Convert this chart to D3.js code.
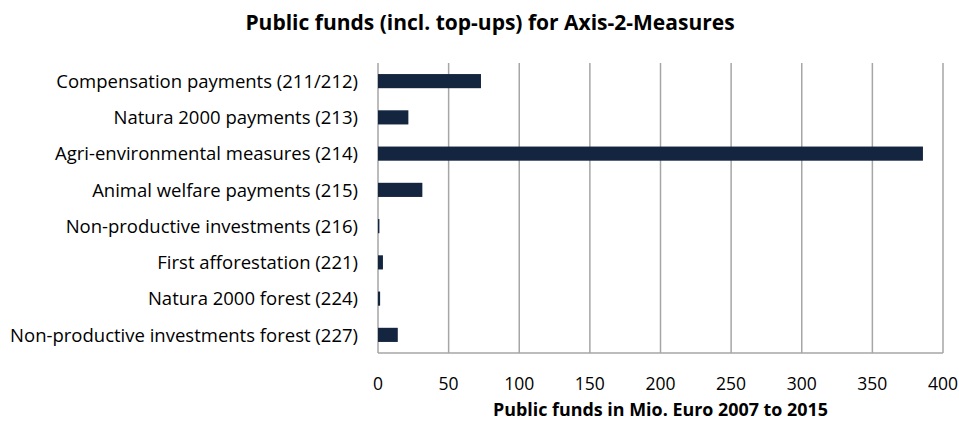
<!DOCTYPE html>
<html>
<head>
<meta charset="utf-8">
<script src="https://cdn.jsdelivr.net/npm/d3@7"></script>
<style>
  body { margin: 0; background: #fff; }
  text { font-family: "Open Sans", sans-serif; fill: #000; }
</style>
</head>
<body>
<svg></svg>
<script>
var measures = [
  "Compensation payments (211/212)",
  "Natura 2000 payments (213)",
  "Agri-environmental measures (214)",
  "Animal welfare payments (215)",
  "Non-productive investments (216)",
  "First afforestation (221)",
  "Natura 2000 forest (224)",
  "Non-productive investments forest (227)"
]
var funds = [72.9, 21.5, 385.8, 31.4, 1.0, 3.5, 1.5, 14]
var xTicks = [0, 50, 100, 150, 200, 250, 300, 350, 400]

var margins = {"left": 378, "right": 16, "top": 63, "bottom": 68}
var width = 959 - margins.left - margins.right
var height = 421 - margins.top - margins.bottom

var svg = d3.select("svg")
  .attr("width", 959)
  .attr("height", 421)

var g = svg.append("g")
  .attr("transform", "translate(" + margins.left + "," + margins.top + ")")

var xScale = d3.scaleLinear()
  .domain([0, 400])
  .range([0, width])

var yScale = d3.scaleBand()
  .domain(measures)
  .range([0, height])
  .paddingInner(0.61)
  .paddingOuter(0.305)

// gridlines
g.selectAll(".grid")
  .data(xTicks)
  .enter()
  .append("line")
  .attr("class", "grid")
  .attr("x1", function(d){ return xScale(d) })
  .attr("x2", function(d){ return xScale(d) })
  .attr("y1", 0)
  .attr("y2", height)
  .attr("stroke", "#a6a6a6")
  .attr("stroke-width", 1.5)

// bottom axis line
g.append("line")
  .attr("x1", 0)
  .attr("x2", width)
  .attr("y1", height)
  .attr("y2", height)
  .attr("stroke", "#a6a6a6")
  .attr("stroke-width", 1.5)

// bars
g.selectAll(".bar")
  .data(funds)
  .enter()
  .append("rect")
  .attr("class", "bar")
  .attr("x", 0)
  .attr("y", function(d, i){ return yScale(measures[i]) })
  .attr("width", function(d){ return xScale(d) })
  .attr("height", yScale.bandwidth())
  .attr("fill", "#13253f")

// x tick labels
g.selectAll(".xlabel")
  .data(xTicks)
  .enter()
  .append("text")
  .attr("class", "xlabel")
  .attr("x", function(d){ return xScale(d) })
  .attr("y", height + 37)
  .attr("text-anchor", "middle")
  .attr("font-size", "17.5px")
  .text(function(d){ return d })

// category labels
g.selectAll(".ylabel")
  .data(measures)
  .enter()
  .append("text")
  .attr("class", "ylabel")
  .attr("x", -20)
  .attr("y", function(d){ return yScale(d) + yScale.bandwidth() / 2 })
  .attr("dy", "0.36em")
  .attr("text-anchor", "end")
  .attr("font-size", "18.5px")
  .text(function(d){ return d })

// axis title
svg.append("text")
  .attr("x", margins.left + width / 2)
  .attr("y", 416)
  .attr("text-anchor", "middle")
  .attr("font-size", "17.9px")
  .attr("font-weight", "bold")
  .text("Public funds in Mio. Euro 2007 to 2015")

// title
svg.append("text")
  .attr("x", 490)
  .attr("y", 30)
  .attr("text-anchor", "middle")
  .attr("font-size", "21px")
  .attr("font-weight", "bold")
  .text("Public funds (incl. top-ups) for Axis-2-Measures")
</script>
</body>
</html>
